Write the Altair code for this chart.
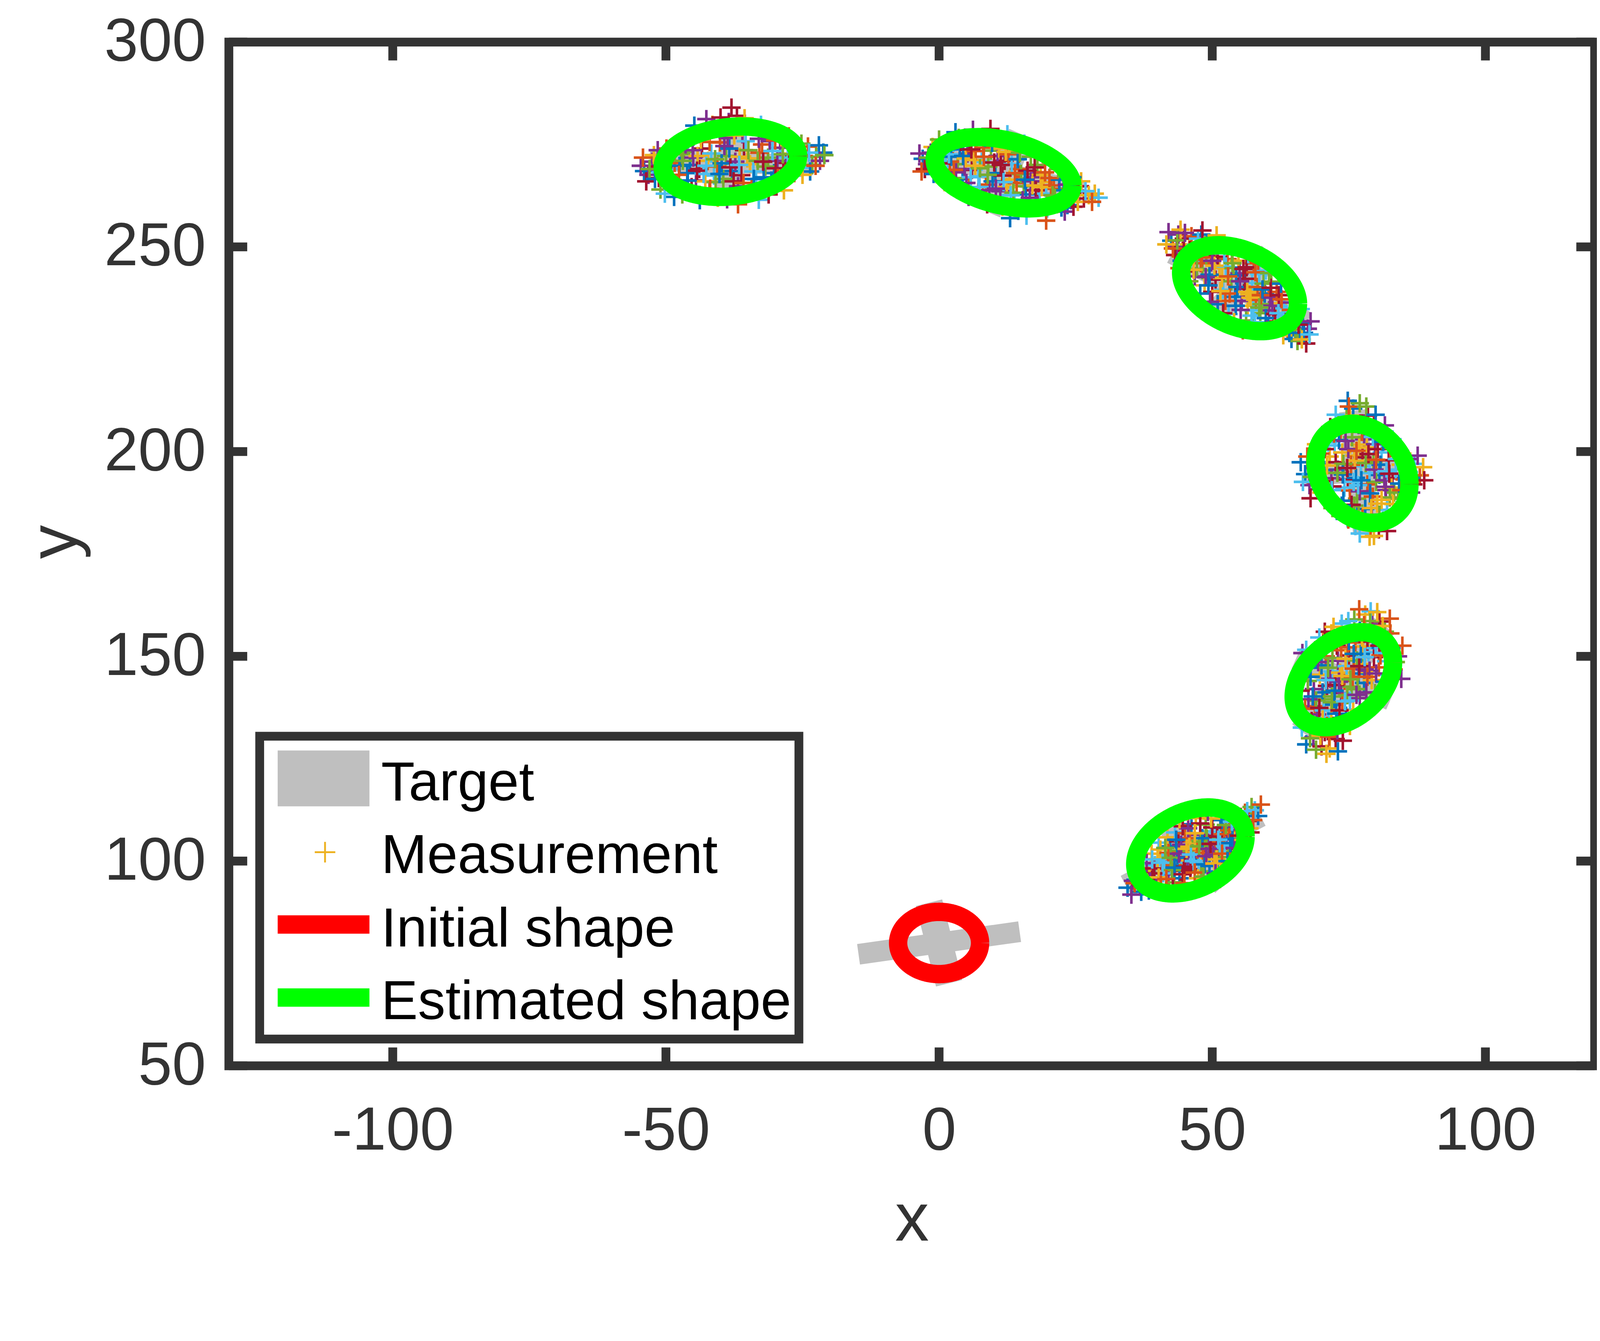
import numpy as np
import pandas as pd
import altair as alt

# ---------------- data ----------------
x_ticks = [-100, -50, 0, 50, 100]
y_ticks = [50, 100, 150, 200, 250, 300]
legend_labels = ["Target", "Measurement", "Initial shape", "Estimated shape"]
matlab_colors = ["#0072BD", "#D95319", "#EDB120", "#7E2F8E", "#77AC30", "#4DBEEE", "#A2142F"]

# measurement clusters (x, y)
meas_1 = [(34.5, 93.5), (35.5, 95.2), (36.8, 94.0), (38.2, 97.5), (39.5, 99.0), (40.8, 98.2), (41.5, 101.5),
          (42.3, 103.6), (43.0, 100.2), (43.8, 104.8), (44.5, 102.1), (45.2, 99.5), (45.9, 105.6), (46.4, 103.0),
          (47.1, 101.2), (47.8, 106.4), (48.5, 103.9), (49.2, 100.8), (49.8, 107.2), (50.5, 104.6), (51.2, 102.3),
          (51.9, 108.1), (52.6, 105.3), (53.4, 103.0), (54.2, 106.9), (55.0, 109.5), (56.0, 111.8), (57.2, 113.2),
          (58.4, 111.0), (42.0, 96.8), (44.8, 97.6), (38.9, 101.8), (40.2, 104.5), (53.0, 98.8), (48.0, 97.5),
          (46.2, 109.0),
          (37.5, 96.0), (39.0, 95.5), (40.0, 100.5), (41.0, 97.0), (42.8, 99.0), (43.5, 102.5), (44.0, 95.8),
          (45.5, 101.0), (46.0, 98.0), (46.9, 104.5), (47.5, 99.8), (48.3, 102.0), (49.0, 105.5), (49.5, 98.8),
          (50.2, 101.5), (50.9, 106.0), (51.6, 99.6), (52.3, 103.8), (53.1, 107.5), (54.0, 101.8), (54.8, 104.8),
          (55.6, 107.8), (56.5, 109.8), (41.8, 105.8), (43.2, 107.0), (45.0, 106.8), (48.8, 108.9), (51.5, 110.0),
          (39.8, 93.8), (44.2, 93.5), (47.4, 95.8), (52.0, 97.5), (36.2, 98.2), (55.8, 103.5), (50.0, 95.5),
          (38.0, 99.5), (39.2, 97.0), (40.5, 102.8), (41.2, 99.8), (42.0, 102.0), (42.6, 97.8), (43.6, 100.8),
          (44.3, 104.0), (45.0, 98.6), (45.8, 103.5), (46.6, 100.0), (47.3, 102.8), (47.9, 104.8), (48.6, 99.2),
          (49.4, 103.0), (50.0, 108.2), (50.8, 100.4), (51.4, 104.2), (52.2, 106.6), (53.0, 101.0), (53.7, 105.4),
          (54.5, 108.4), (55.2, 110.8), (56.8, 108.0), (57.8, 112.4), (58.9, 113.8), (43.0, 94.8), (37.0, 92.5),
          (35.2, 91.8), (44.6, 108.5), (47.0, 110.5), (53.8, 99.6),
          (35.8, 94.6), (36.6, 96.8), (37.4, 93.8), (38.6, 95.0), (39.4, 98.2), (40.2, 96.0), (40.9, 99.6),
          (41.6, 95.6), (42.4, 100.8), (43.1, 98.4), (43.9, 101.8), (44.6, 96.8), (45.3, 103.0), (46.1, 101.6),
          (46.8, 97.2), (47.6, 103.6), (48.2, 105.6), (48.9, 101.2), (49.7, 104.2), (50.4, 99.4), (51.1, 105.2),
          (51.8, 101.8), (52.5, 108.8), (53.3, 104.4), (54.1, 103.2), (54.9, 106.2), (55.7, 105.2), (56.4, 112.2),
          (57.5, 110.0), (41.4, 103.2), (43.4, 105.2), (45.6, 108.0), (47.8, 109.2), (49.8, 110.4), (39.0, 100.4),
          (44.9, 94.6), (48.4, 96.2), (52.8, 100.0), (50.6, 97.0), (42.8, 93.2), (46.8, 106.8), (53.6, 109.6),
          (40.6, 94.2), (55.4, 102.4), (38.4, 92.8), (49.2, 112.0), (57.0, 107.0), (44.0, 110.2), (36.0, 99.4),
          (51.4, 95.6)]
meas_2 = [(67.2, 128.5), (68.5, 130.2), (70.0, 128.0), (69.5, 133.5), (71.2, 135.0), (68.8, 137.8), (70.5, 139.5),
          (72.3, 138.2), (73.6, 141.0), (71.0, 142.8), (69.7, 145.5), (72.0, 146.3), (74.2, 144.0), (75.5, 142.6),
          (76.8, 145.8), (73.0, 148.9), (75.0, 150.2), (77.4, 148.1), (78.6, 151.0), (76.2, 153.4), (74.1, 155.0),
          (77.0, 156.3), (79.3, 157.8), (80.6, 158.5), (78.0, 160.2), (82.0, 145.5), (80.5, 147.3), (79.8, 141.0),
          (67.8, 147.2), (66.5, 150.8), (72.8, 152.6), (75.8, 137.0), (81.2, 152.5), (70.8, 150.0), (76.0, 159.0),
          (68.0, 132.0), (69.2, 135.8), (70.6, 131.5), (71.8, 137.0), (72.9, 134.2), (73.8, 138.8), (74.7, 140.5),
          (70.2, 141.2), (71.6, 144.5), (72.5, 143.0), (73.4, 146.0), (74.6, 147.6), (75.7, 145.0), (76.5, 149.0),
          (77.8, 143.5), (78.8, 146.5), (79.6, 149.8), (77.6, 152.4), (75.6, 155.8), (73.6, 151.5), (72.0, 149.6),
          (70.0, 147.8), (68.6, 142.0), (80.2, 154.8), (78.6, 155.2), (81.8, 148.8), (83.2, 146.8), (69.0, 139.2),
          (74.5, 135.5), (77.0, 139.8), (72.6, 129.8), (71.5, 127.5), (79.0, 161.0), (82.5, 159.2), (67.5, 144.0),
          (66.8, 135.0), (67.6, 139.5), (68.2, 134.2), (69.8, 130.6), (70.4, 136.8), (71.0, 133.0), (71.9, 140.2),
          (72.7, 136.0), (73.2, 143.8), (73.9, 133.6), (74.4, 149.4), (75.2, 139.2), (75.9, 147.0), (76.6, 142.0),
          (77.2, 150.6), (77.9, 146.8), (78.4, 153.6), (79.2, 144.2), (79.9, 152.0), (80.8, 150.2), (81.6, 156.0),
          (82.8, 152.0), (84.0, 150.0), (70.3, 153.4), (71.8, 155.6), (73.7, 158.0), (76.9, 161.5), (69.0, 127.2),
          (73.0, 126.8), (84.6, 144.5), (66.2, 141.6), (75.2, 133.0),
          (66.4, 132.6), (67.0, 137.2), (67.9, 130.0), (68.4, 140.2), (69.1, 133.2), (69.6, 137.4), (70.2, 134.6),
          (70.8, 144.2), (71.4, 130.4), (71.9, 138.8), (72.4, 141.6), (72.9, 131.8), (73.3, 136.8), (73.8, 145.2),
          (74.3, 139.0), (74.8, 152.2), (75.3, 144.4), (75.9, 150.6), (76.4, 140.6), (76.9, 147.6), (77.4, 154.6),
          (77.9, 149.8), (78.4, 145.0), (78.9, 158.6), (79.4, 154.0), (80.0, 145.8), (80.6, 152.6), (81.2, 157.4),
          (81.9, 150.8), (82.6, 155.6), (83.6, 148.6), (68.0, 145.0), (69.4, 148.6), (70.6, 156.0), (72.2, 157.2),
          (74.9, 158.6), (77.8, 157.6), (79.6, 139.4), (81.6, 143.8), (76.1, 134.8), (73.9, 129.4), (70.9, 126.2),
          (67.2, 151.6), (84.8, 152.6), (71.2, 147.2), (75.0, 153.8), (78.2, 141.2), (72.2, 133.0), (80.2, 160.8),
          (69.6, 154.6)]
meas_3 = [(67.0, 194.5), (68.8, 196.0), (70.2, 192.8), (71.5, 198.8), (72.4, 201.5), (73.5, 205.3), (74.6, 208.0),
          (75.8, 210.5), (73.0, 195.6), (74.8, 193.2), (76.0, 199.0), (77.2, 196.4), (78.4, 192.0), (79.5, 197.5),
          (80.6, 194.3), (81.8, 190.6), (83.0, 193.5), (84.5, 196.8), (86.0, 195.0), (88.0, 194.2), (76.5, 188.5),
          (78.0, 186.0), (79.2, 183.5), (80.5, 181.0), (78.8, 179.2), (82.0, 185.8), (75.2, 190.5), (71.0, 189.0),
          (72.8, 185.5), (77.8, 203.0), (79.6, 206.2), (76.9, 201.7), (81.0, 199.8), (69.8, 199.5), (84.0, 188.5),
          (70.5, 195.5), (71.8, 193.5), (72.6, 197.4), (73.8, 199.8), (74.2, 191.2), (75.4, 196.8), (75.6, 203.5),
          (76.3, 193.6), (77.0, 190.3), (77.5, 198.6), (78.3, 201.0), (78.8, 194.8), (79.4, 189.0), (80.0, 192.6),
          (80.8, 196.8), (81.5, 193.0), (82.3, 197.9), (82.8, 191.2), (83.6, 195.6), (85.2, 193.2), (74.0, 197.0),
          (73.2, 202.8), (76.8, 206.5), (78.5, 208.8), (80.2, 187.3), (81.2, 183.2), (77.5, 184.0), (76.0, 186.8),
          (74.0, 188.0), (79.8, 201.8), (72.0, 191.5), (84.8, 199.5), (87.0, 197.0), (69.0, 192.0), (82.5, 188.8),
          (66.2, 197.4), (67.8, 191.8), (68.9, 198.6), (70.0, 190.0), (71.2, 202.2), (72.2, 188.2), (73.1, 207.0),
          (73.9, 194.4), (74.9, 200.6), (75.5, 187.0), (76.1, 197.8), (76.7, 191.8), (77.4, 204.8), (78.1, 197.2),
          (78.9, 189.8), (79.7, 195.6), (80.3, 200.6), (81.0, 188.2), (81.9, 195.2), (82.6, 200.8), (83.3, 190.0),
          (84.2, 192.2), (85.8, 198.2), (86.8, 192.0), (88.6, 196.2), (76.2, 181.8), (79.0, 181.5), (77.0, 211.8),
          (74.8, 212.4), (80.8, 204.0), (71.6, 206.0), (83.6, 184.6),
          (66.6, 192.6), (67.4, 198.8), (68.2, 193.8), (69.2, 196.8), (69.6, 190.8), (70.6, 200.6), (71.0, 196.6),
          (71.9, 190.6), (72.3, 204.4), (72.9, 194.8), (73.7, 186.8), (74.4, 202.6), (74.7, 196.0), (75.2, 208.8),
          (75.9, 192.6), (76.4, 200.2), (76.8, 184.4), (77.3, 193.0), (77.9, 206.8), (78.6, 199.4), (79.1, 186.2),
          (79.4, 203.6), (80.0, 198.0), (80.6, 184.6), (81.3, 202.4), (81.7, 191.4), (82.4, 194.6), (83.1, 187.2),
          (83.8, 198.2), (84.6, 190.6), (85.5, 195.8), (86.4, 193.6), (87.6, 199.0), (88.8, 193.0), (70.0, 203.2),
          (72.6, 209.0), (75.0, 211.0), (78.2, 211.0), (79.9, 209.0), (81.6, 206.4), (82.0, 180.6), (79.6, 179.4),
          (77.0, 180.0), (74.9, 183.4), (72.0, 186.2), (85.0, 186.8), (86.4, 190.0), (68.0, 188.6), (69.0, 201.8),
          (83.0, 203.0)]
meas_4 = [(42.5, 251.5), (43.8, 253.0), (44.6, 249.0), (45.8, 250.6), (46.5, 246.5), (47.6, 248.8), (48.2, 244.3),
          (49.0, 251.0), (49.8, 246.2), (50.6, 242.0), (51.3, 244.8), (52.0, 239.5), (52.8, 247.0), (53.5, 241.6),
          (54.2, 237.8), (55.0, 243.5), (55.8, 239.8), (56.5, 235.6), (57.3, 241.2), (58.0, 237.0), (58.8, 233.8),
          (59.6, 238.6), (60.4, 234.5), (61.2, 231.8), (62.0, 236.2), (62.9, 232.9), (63.8, 229.8), (64.8, 231.4),
          (66.0, 228.4), (67.5, 230.0), (45.2, 244.0), (48.6, 240.6), (53.0, 233.6), (57.6, 246.0), (60.8, 241.5),
          (51.0, 236.0),
          (43.5, 250.0), (44.8, 252.0), (46.0, 248.0), (47.0, 250.5), (47.9, 246.0), (48.9, 248.0), (49.5, 243.2),
          (50.2, 249.0), (51.0, 247.6), (51.8, 242.4), (52.5, 245.2), (53.2, 238.6), (53.9, 244.8), (54.6, 240.2),
          (55.4, 236.8), (56.0, 242.2), (56.8, 238.4), (57.5, 234.5), (58.3, 240.2), (59.0, 236.0), (59.8, 232.6),
          (60.6, 237.6), (61.5, 233.6), (62.4, 230.6), (63.2, 235.0), (64.0, 232.0), (65.2, 229.8), (66.6, 231.5),
          (46.8, 242.8), (50.0, 239.0), (54.8, 246.6), (58.6, 243.4), (61.8, 239.0), (56.2, 232.0), (64.5, 227.5),
          (42.0, 253.6), (43.2, 248.0), (44.2, 254.2), (45.4, 247.0), (46.2, 252.6), (47.2, 244.6), (48.0, 253.0),
          (48.8, 242.6), (49.7, 249.8), (50.4, 245.4), (51.6, 250.4), (52.4, 236.8), (53.6, 248.6), (54.4, 243.0),
          (55.2, 234.6), (56.3, 245.0), (57.0, 237.6), (57.8, 231.6), (58.9, 238.2), (59.4, 241.0), (60.2, 230.4),
          (61.0, 235.6), (62.2, 238.2), (63.0, 228.4), (63.6, 233.6), (64.4, 234.6), (65.6, 227.0), (66.8, 229.0),
          (68.0, 231.8), (67.2, 226.4), (50.8, 252.8), (59.8, 244.2),
          (42.8, 249.6), (43.6, 251.6), (44.4, 246.6), (45.0, 253.4), (45.9, 249.2), (46.6, 244.4), (47.4, 252.0),
          (48.1, 247.4), (48.7, 250.4), (49.3, 240.6), (50.0, 246.6), (50.8, 250.2), (51.5, 239.2), (52.2, 248.4),
          (52.9, 242.8), (53.7, 246.0), (54.3, 235.6), (55.1, 241.6), (55.7, 244.6), (56.4, 239.0), (57.2, 233.2),
          (57.9, 243.8), (58.6, 235.2), (59.2, 239.6), (60.0, 229.8), (60.7, 240.0), (61.4, 230.0), (62.1, 233.8),
          (62.7, 237.2), (63.4, 231.2), (64.1, 229.0), (64.9, 233.6), (65.8, 231.0), (66.4, 227.4), (67.8, 228.6),
          (44.0, 244.8), (45.8, 241.6), (47.8, 238.6), (49.6, 236.6), (52.0, 233.8), (54.0, 231.6), (56.6, 248.2),
          (58.4, 246.6), (60.4, 243.6), (62.6, 241.0), (64.6, 236.4), (48.2, 254.0), (41.6, 250.6), (66.2, 234.8),
          (55.6, 229.6)]
meas_5 = [(-3.0, 271.5), (-1.5, 273.0), (-0.5, 269.5), (0.8, 271.8), (1.6, 267.8), (2.5, 274.6), (3.4, 270.2),
          (4.3, 266.5), (5.2, 272.8), (6.0, 268.8), (6.9, 276.0), (7.8, 270.8), (8.6, 265.2), (9.5, 273.5),
          (10.3, 268.0), (11.2, 263.6), (12.0, 271.0), (12.9, 266.4), (13.8, 261.5), (14.6, 269.0), (15.5, 264.8),
          (16.4, 259.8), (17.3, 267.0), (18.2, 262.8), (19.1, 265.8), (20.0, 261.0), (21.0, 264.2), (22.2, 262.2),
          (23.5, 260.2), (25.0, 263.5), (26.5, 261.8), (28.5, 263.0), (12.5, 277.5), (8.0, 262.5), (16.8, 272.0),
          (13.0, 257.0),
          (-2.2, 270.2), (-0.8, 272.6), (0.2, 268.5), (1.2, 273.5), (2.0, 270.8), (2.9, 266.8), (3.8, 273.8),
          (4.7, 269.0), (5.6, 275.2), (6.4, 271.2), (7.2, 267.2), (8.1, 274.2), (9.0, 269.6), (9.8, 266.0),
          (10.7, 272.2), (11.6, 267.4), (12.4, 264.6), (13.3, 270.2), (14.2, 265.6), (15.0, 267.8), (15.9, 262.8),
          (16.8, 266.0), (17.7, 263.8), (18.6, 267.6), (19.6, 263.0), (20.5, 265.0), (21.6, 260.4), (22.8, 263.8),
          (24.2, 261.4), (25.8, 264.8), (27.4, 262.6), (10.5, 276.5), (5.5, 264.5), (18.0, 270.0), (14.5, 258.8),
          (-3.6, 272.8), (-2.6, 269.0), (-1.2, 274.4), (-0.2, 271.0), (0.6, 266.6), (1.5, 275.2), (2.2, 272.0),
          (3.1, 268.2), (4.0, 275.6), (4.9, 271.6), (5.8, 267.0), (6.7, 273.4), (7.5, 269.2), (8.4, 276.6),
          (9.2, 263.8), (10.1, 270.6), (11.0, 274.0), (11.8, 265.8), (12.7, 272.6), (13.6, 263.2), (14.4, 271.4),
          (15.3, 261.4), (16.2, 268.6), (17.1, 265.0), (18.4, 260.6), (19.4, 268.2), (20.8, 262.6), (22.0, 266.4),
          (23.0, 258.6), (24.6, 259.8), (26.0, 266.0), (29.2, 262.0),
          (-3.2, 268.4), (-2.0, 271.8), (-1.0, 267.8), (-0.4, 274.2), (0.4, 270.4), (1.0, 265.8), (1.8, 272.6),
          (2.7, 268.8), (3.6, 276.6), (4.4, 272.2), (5.0, 265.6), (5.9, 273.8), (6.6, 269.8), (7.4, 264.6),
          (8.2, 272.0), (8.9, 267.6), (9.7, 275.4), (10.4, 264.2), (11.3, 270.0), (12.2, 273.2), (13.1, 262.6),
          (13.9, 268.0), (14.8, 273.0), (15.7, 266.4), (16.6, 262.0), (17.5, 269.4), (18.8, 264.6), (19.8, 259.4),
          (20.2, 266.8), (21.2, 262.0), (22.4, 259.6), (23.4, 265.2), (24.0, 262.6), (25.4, 261.0), (26.8, 263.6),
          (28.0, 261.0), (0.0, 276.2), (3.0, 278.0), (6.2, 278.6), (9.4, 278.8), (12.8, 275.4), (15.6, 275.2),
          (19.0, 272.6), (21.8, 269.0), (24.4, 267.0), (5.4, 262.2), (8.8, 260.4), (11.6, 259.8), (16.0, 257.6),
          (19.6, 256.4)]
meas_6 = [(-54.0, 268.5), (-52.5, 270.8), (-51.3, 266.8), (-50.2, 272.5), (-49.0, 269.0), (-47.8, 265.5),
          (-46.7, 273.2), (-45.6, 270.0), (-44.5, 266.2), (-43.4, 274.0), (-42.3, 271.0), (-41.2, 267.4),
          (-40.1, 275.5), (-39.0, 272.2), (-37.9, 268.5), (-36.8, 264.8), (-35.7, 273.6), (-34.6, 270.2),
          (-33.5, 266.5), (-32.4, 275.0), (-31.3, 271.8), (-30.2, 268.0), (-29.1, 274.2), (-28.0, 270.5),
          (-26.8, 272.8), (-25.5, 269.3), (-24.0, 274.5), (-22.5, 272.0), (-21.2, 273.0), (-38.5, 280.5),
          (-37.0, 282.0), (-40.5, 262.0), (-33.0, 261.5), (-44.0, 277.5), (-30.0, 278.0), (-48.5, 262.2),
          (-53.2, 267.6), (-51.8, 269.6), (-50.8, 271.0), (-49.6, 267.2), (-48.4, 270.5), (-47.2, 272.6),
          (-46.1, 268.0), (-45.0, 271.8), (-43.9, 269.0), (-42.8, 266.0), (-41.7, 272.8), (-40.6, 269.6),
          (-39.5, 266.6), (-38.4, 274.0), (-37.3, 270.8), (-36.2, 267.5), (-35.1, 271.6), (-34.0, 268.4),
          (-32.9, 273.0), (-31.8, 269.6), (-30.7, 266.2), (-29.6, 271.0), (-28.5, 268.2), (-27.4, 274.8),
          (-26.2, 270.6), (-24.8, 272.2), (-23.2, 270.0), (-39.5, 278.5), (-36.0, 277.5), (-42.0, 263.5),
          (-35.5, 262.8), (-46.0, 276.0), (-27.5, 277.0), (-51.0, 264.0), (-22.0, 274.8),
          (-54.6, 269.8), (-53.6, 266.0), (-52.2, 272.4), (-51.0, 268.2), (-49.9, 274.0), (-48.8, 266.4),
          (-47.5, 269.8), (-46.4, 275.0), (-45.3, 264.6), (-44.2, 272.2), (-43.1, 267.8), (-42.0, 275.6),
          (-40.9, 265.8), (-39.8, 270.4), (-38.7, 276.6), (-37.6, 266.0), (-36.5, 272.0), (-35.4, 275.8),
          (-34.3, 264.2), (-33.2, 271.0), (-32.1, 267.0), (-31.0, 275.8), (-29.9, 269.2), (-28.8, 265.6),
          (-27.7, 271.8), (-26.5, 268.0), (-25.2, 275.2), (-23.6, 268.4), (-21.8, 271.0), (-38.0, 284.0),
          (-41.5, 279.8), (-34.0, 279.2),
          (-54.2, 271.8), (-53.0, 269.0), (-52.0, 266.6), (-51.5, 273.6), (-50.5, 269.4), (-49.4, 265.6),
          (-48.6, 273.8), (-47.6, 267.6), (-46.9, 271.0), (-46.0, 266.2), (-45.1, 273.6), (-44.3, 268.6),
          (-43.6, 276.2), (-42.6, 269.8), (-41.9, 264.2), (-41.0, 271.4), (-40.2, 267.8), (-39.3, 274.6),
          (-38.2, 269.4), (-37.5, 277.2), (-36.6, 270.0), (-35.8, 265.6), (-34.9, 273.6), (-33.9, 266.6),
          (-33.0, 276.4), (-32.2, 270.8), (-31.4, 264.6), (-30.5, 273.4), (-29.5, 266.8), (-28.6, 272.6),
          (-27.8, 267.0), (-26.9, 275.6), (-26.0, 272.0), (-25.0, 267.6), (-23.8, 273.0), (-22.6, 269.8),
          (-21.0, 272.4), (-44.8, 279.6), (-42.6, 281.2), (-40.0, 281.6), (-35.6, 281.4), (-32.6, 279.8),
          (-30.0, 276.0), (-47.0, 262.8), (-43.8, 261.4), (-38.8, 261.6), (-31.2, 262.8), (-28.4, 263.8),
          (-50.2, 263.0), (-36.8, 260.4)]

# ellipses: centre x, centre y, half-width x, half-height y, correlation
initial_shape = [(0.0, 80.0, 7.5, 7.6, 0.0)]
estimated_shapes = [
    (46.0, 102.6, 10.1, 10.5, 0.32),
    (74.0, 144.3, 9.1, 11.6, 0.36),
    (77.5, 194.7, 8.6, 12.1, -0.22),
    (55.0, 239.9, 10.7, 10.5, -0.36),
    (11.8, 268.1, 12.6, 8.7, -0.36),
    (-38.2, 270.8, 12.4, 8.6, 0.16),
]

# target (cross-shaped extended object): centre x, centre y, orientation (deg)
targets = [(0.0, 80.0, 10.6), (46.5, 102.5, 35.0), (74.0, 144.5, 60.0), (77.0, 195.0, 95.0),
           (55.0, 240.0, 145.0), (12.0, 268.0, 162.0), (-38.0, 270.5, 178.0)]
target_half_long = 15.0
target_half_short = 10.0
target_width = 5.0

# ---------------- layout ----------------
W, H = 3721, 2789
XD = [-130, 120]
YD = [50, 300]
sx = W / (XD[1] - XD[0])
sy = H / (YD[1] - YD[0])
FONT = "Liberation Sans"
DARK = "#333333"

xs = alt.Scale(domain=XD, nice=False, zero=False)
ys = alt.Scale(domain=YD, nice=False, zero=False)
x_axis = alt.Axis(values=x_ticks, tickSize=0, domain=False, grid=False, labelFontSize=166, labelFont=FONT,
                  labelColor=DARK, labelPadding=228, labelBaseline="alphabetic", labelLimit=0,
                  labelExpr="'' + datum.value",
                  title="x", titleFont=FONT, titleFontSize=185, titleFontWeight="normal", titleColor=DARK,
                  titleY=476, titleBaseline="alphabetic", labelFlush=False, labelOverlap=False)
y_axis = alt.Axis(values=y_ticks, tickSize=0, domain=False, grid=False, labelFontSize=166, labelFont=FONT,
                  labelColor=DARK, labelPadding=63, labelBaseline="middle", labelLimit=0,
                  labelExpr="'' + datum.value",
                  title="y", titleFont=FONT, titleFontSize=185, titleFontWeight="normal", titleColor=DARK,
                  titleX=-415, titleY=H / 2 - 33, titleAngle=270, titleBaseline="alphabetic",
                  titleAlign="center", labelFlush=False, labelOverlap=False)


def X(f):
    return alt.X(f, type="quantitative", scale=xs, axis=x_axis)


def Y(f):
    return alt.Y(f, type="quantitative", scale=ys, axis=y_axis)


# target bars
rows = []
for k, (cx, cy, ang) in enumerate(targets):
    a = np.deg2rad(ang)
    d_long = np.array([np.cos(a), np.sin(a)])
    d_short = np.array([-np.sin(a), np.cos(a)])
    for j, (d, hl, perp) in enumerate([(d_long, target_half_long, d_short), (d_short, target_half_short, d_long)]):
        w_px = target_width * np.hypot(perp[0] * sx, perp[1] * sy)
        for o, s in enumerate([-1, 1]):
            rows.append({"seg": f"{k}_{j}", "o": o, "x": cx + s * hl * d[0], "y": cy + s * hl * d[1], "w": w_px})
target_df = pd.DataFrame(rows)

# measurements
mrows = []
for cl in [meas_1, meas_2, meas_3, meas_4, meas_5, meas_6]:
    for i, (mx, my) in enumerate(cl):
        mrows.append({"x": mx, "y": my, "c": (i * 3) % 7})
meas_df = pd.DataFrame(mrows)


def ellipse_df(shapes):
    t = np.linspace(0, 2 * np.pi, 181)
    out = []
    for k, (cx, cy, hx, hy, rho) in enumerate(shapes):
        ex = cx + hx * np.cos(t)
        ey = cy + hy * (rho * np.cos(t) + np.sqrt(1 - rho ** 2) * np.sin(t))
        for i in range(len(t)):
            out.append({"id": k, "o": i, "x": ex[i], "y": ey[i]})
    return pd.DataFrame(out)


init_df = ellipse_df(initial_shape)
est_df = ellipse_df(estimated_shapes)

CROSS = "M-1,0H1M0,-1V1"

target_layer = alt.Chart(target_df).mark_line(color="#BFBFBF", strokeCap="butt").encode(
    x=X("x"), y=Y("y"), detail="seg:N", order="o:Q",
    strokeWidth=alt.StrokeWidth("w:Q", scale=None, legend=None))

meas_layer = alt.Chart(meas_df).mark_point(shape=CROSS, filled=False, strokeWidth=7, size=2500, opacity=1).encode(
    x=X("x"), y=Y("y"),
    color=alt.Color("c:N", scale=alt.Scale(domain=list(range(7)), range=matlab_colors), legend=None))

init_layer = alt.Chart(init_df).mark_line(color="#FF0000", strokeWidth=50, strokeJoin="round").encode(
    x=X("x"), y=Y("y"), detail="id:N", order="o:Q")

est_layer = alt.Chart(est_df).mark_line(color="#00FF00", strokeWidth=50, strokeJoin="round").encode(
    x=X("x"), y=Y("y"), detail="id:N", order="o:Q")

TL = 50
xt_df = pd.DataFrame({"v": x_ticks})
yt_df = pd.DataFrame({"v": y_ticks})
tick_bottom = alt.Chart(xt_df).mark_rule(color=DARK, strokeWidth=24).encode(
    x=X("v"), y=alt.value(H), y2=alt.value(H - TL))
tick_top = alt.Chart(xt_df).mark_rule(color=DARK, strokeWidth=24).encode(
    x=X("v"), y=alt.value(0), y2=alt.value(TL))
tick_left = alt.Chart(yt_df).mark_rule(color=DARK, strokeWidth=24).encode(
    y=Y("v"), x=alt.value(0), x2=alt.value(TL))
tick_right = alt.Chart(yt_df).mark_rule(color=DARK, strokeWidth=24).encode(
    y=Y("v"), x=alt.value(W), x2=alt.value(W - TL))

# legend (drawn in pixel space)
one = pd.DataFrame({"a": [0]})
leg_box = alt.Chart(one).mark_rect(fill="white", stroke=DARK, strokeWidth=24).encode(
    x=alt.value(84), x2=alt.value(1553), y=alt.value(1891), y2=alt.value(2716))
leg_target = alt.Chart(one).mark_rect(fill="#BFBFBF").encode(
    x=alt.value(133), x2=alt.value(383), y=alt.value(1930), y2=alt.value(2082))
leg_meas = alt.Chart(one).mark_point(shape=CROSS, filled=False, strokeWidth=5, size=3136, color="#EDB120",
                                     opacity=1).encode(x=alt.value(262), y=alt.value(2207))
leg_init = alt.Chart(one).mark_rule(color="#FF0000", strokeWidth=50).encode(
    x=alt.value(133), x2=alt.value(383), y=alt.value(2404))
leg_est = alt.Chart(one).mark_rule(color="#00FF00", strokeWidth=50).encode(
    x=alt.value(133), x2=alt.value(383), y=alt.value(2603))
text_layers = []
for lab, yy in zip(legend_labels, [2066, 2264, 2464, 2662]):
    text_layers.append(alt.Chart(pd.DataFrame({"t": [lab]})).mark_text(
        font=FONT, fontSize=150, color="black", align="left", baseline="alphabetic").encode(
        x=alt.value(415), y=alt.value(yy), text="t:N"))

chart = alt.layer(target_layer, meas_layer, init_layer, est_layer,
                  tick_bottom, tick_top, tick_left, tick_right,
                  leg_box, leg_target, leg_meas, leg_init, leg_est, *text_layers).properties(
    width=W, height=H,
    autosize=alt.AutoSizeParams(type="none"),
    padding={"left": 615, "top": 0, "right": 6, "bottom": 519},
    background="white",
).configure_view(stroke=DARK, strokeWidth=24)

chart.save("out.html", embed_options={"renderer": "svg", "actions": False})
